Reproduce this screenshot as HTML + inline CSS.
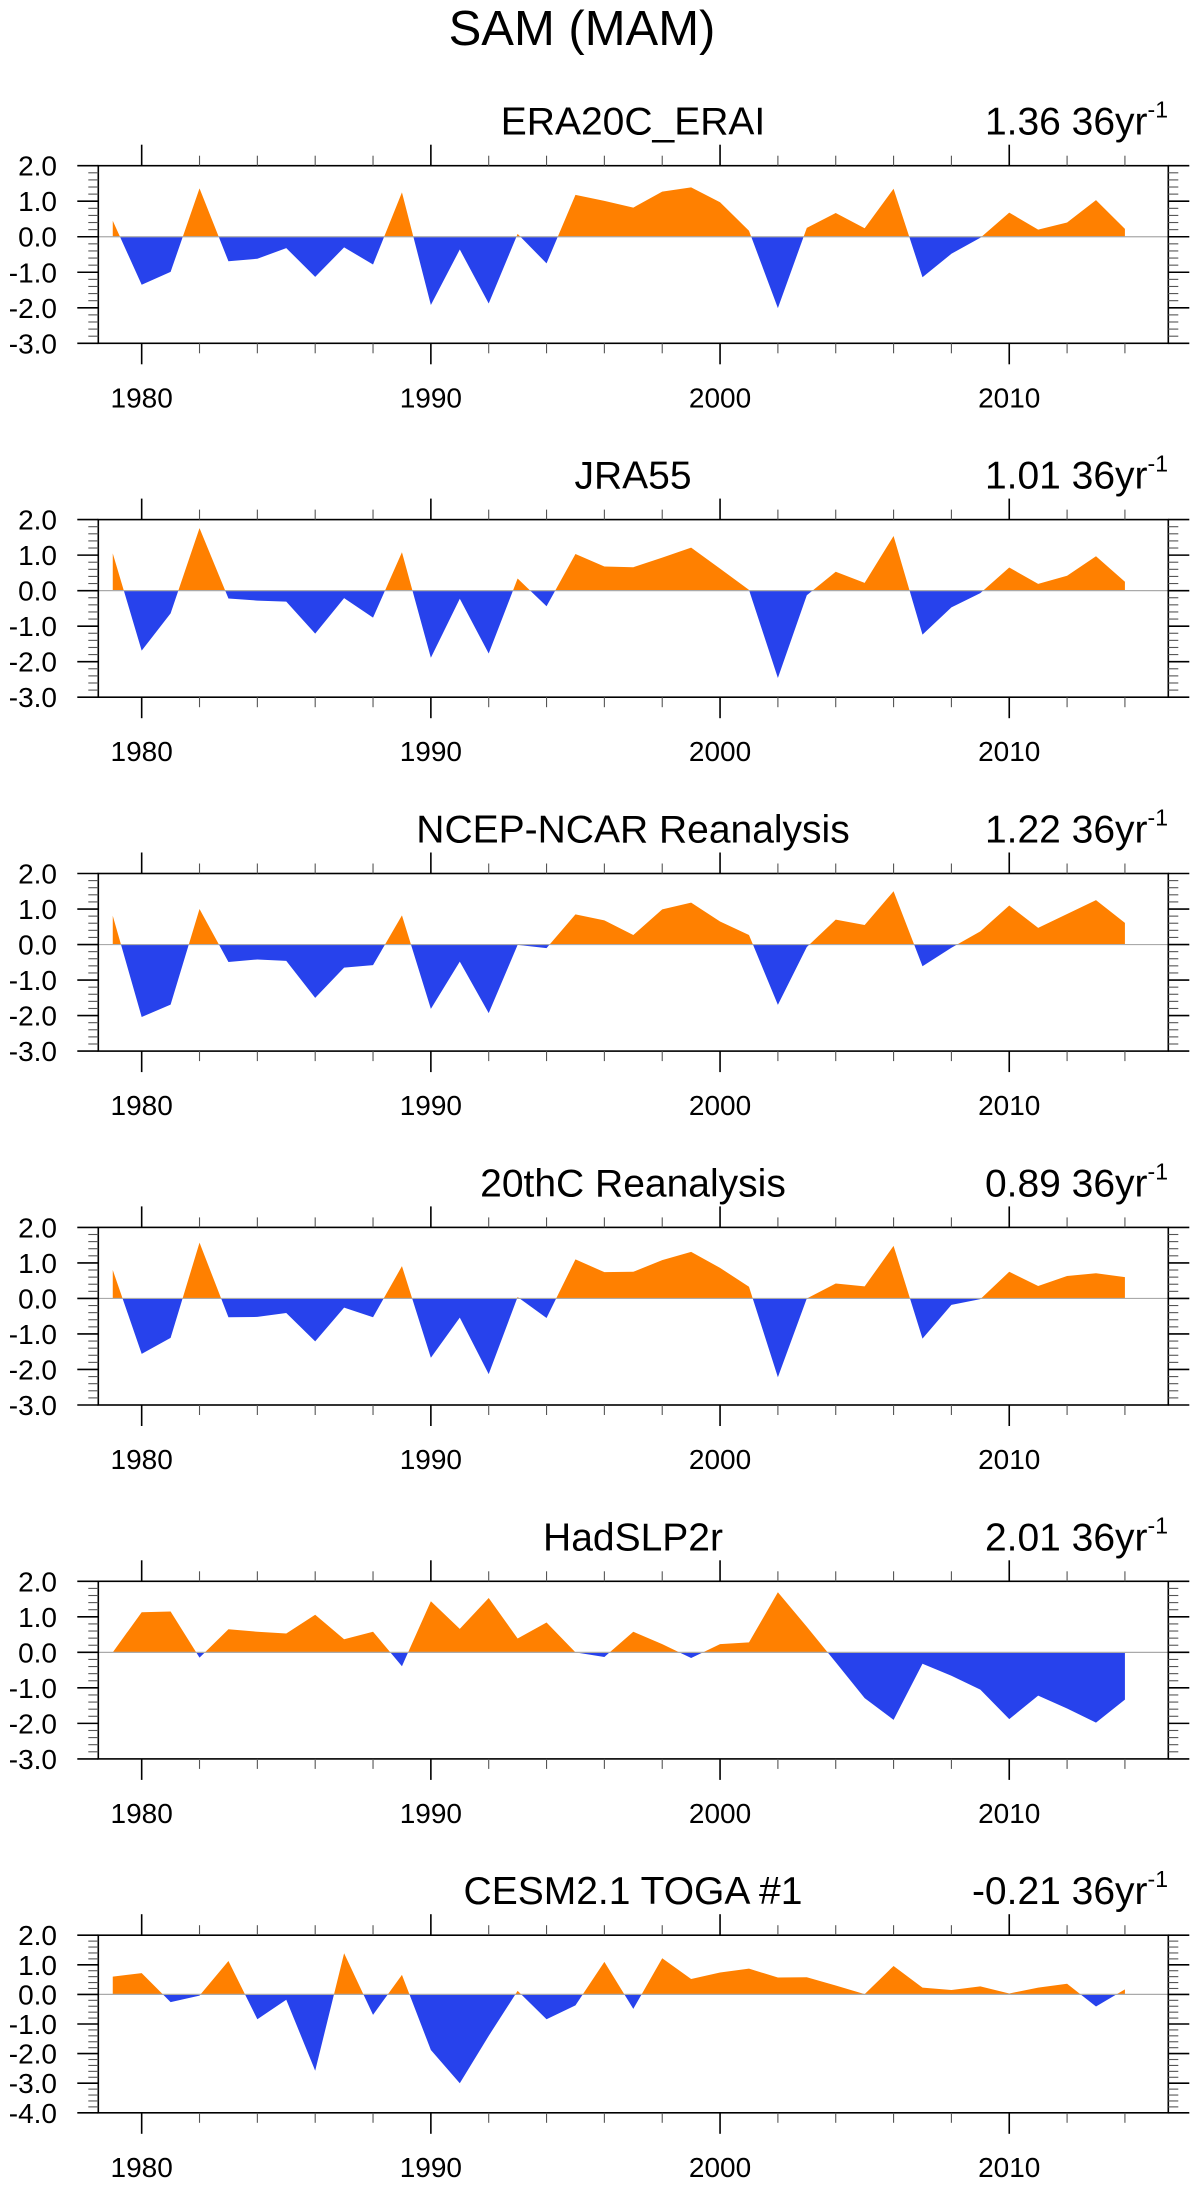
<!DOCTYPE html>
<html><head><meta charset="utf-8"><style>
html,body{margin:0;padding:0;background:#fff;}
svg{display:block;font-family:"Liberation Sans",Arial,sans-serif;}
</style></head><body>
<svg id="chart" width="1198" height="2186" viewBox="0 0 1198 2186" xmlns="http://www.w3.org/2000/svg">
<text x="582" y="45" font-size="49" text-anchor="middle">SAM (MAM)</text>
</svg>
<script>
const years = [1979,1980,1981,1982,1983,1984,1985,1986,1987,1988,1989,1990,1991,1992,1993,1994,1995,1996,1997,1998,1999,2000,2001,2002,2003,2004,2005,2006,2007,2008,2009,2010,2011,2012,2013,2014];
const panelTitles = ["ERA20C_ERAI","JRA55","NCEP-NCAR Reanalysis","20thC Reanalysis","HadSLP2r","CESM2.1 TOGA #1"];
const trendLabels = ["1.36 36yr","1.01 36yr","1.22 36yr","0.89 36yr","2.01 36yr","-0.21 36yr"];
const xTickLabels = [1980,1990,2000,2010];
const era20cErai = [0.45,-1.35,-0.99,1.36,-0.69,-0.62,-0.32,-1.13,-0.30,-0.78,1.25,-1.92,-0.36,-1.88,0.08,-0.75,1.18,1.01,0.82,1.27,1.39,0.97,0.17,-2.01,0.25,0.67,0.24,1.35,-1.14,-0.48,-0.03,0.68,0.20,0.40,1.03,0.22];
const jra55 = [1.05,-1.69,-0.64,1.76,-0.22,-0.28,-0.31,-1.21,-0.21,-0.76,1.08,-1.89,-0.23,-1.77,0.34,-0.44,1.03,0.68,0.66,0.93,1.21,0.62,0.02,-2.46,-0.13,0.53,0.22,1.54,-1.24,-0.47,-0.07,0.65,0.19,0.42,0.97,0.25];
const ncepNcar = [0.81,-2.04,-1.69,1.00,-0.49,-0.42,-0.46,-1.50,-0.65,-0.58,0.82,-1.81,-0.48,-1.93,-0.01,-0.10,0.85,0.68,0.27,0.99,1.18,0.65,0.27,-1.70,-0.07,0.70,0.55,1.50,-0.61,-0.09,0.37,1.10,0.47,0.86,1.25,0.61];
const c20Reanalysis = [0.80,-1.56,-1.11,1.57,-0.53,-0.52,-0.41,-1.21,-0.26,-0.53,0.91,-1.67,-0.54,-2.13,0.04,-0.55,1.10,0.74,0.75,1.08,1.31,0.86,0.33,-2.22,0.00,0.42,0.34,1.48,-1.13,-0.18,-0.02,0.75,0.35,0.63,0.71,0.60];
const hadSLP2r = [0.00,1.13,1.15,-0.15,0.65,0.58,0.53,1.06,0.37,0.58,-0.39,1.44,0.66,1.53,0.39,0.84,0.00,-0.13,0.58,0.23,-0.16,0.23,0.28,1.69,0.72,-0.28,-1.29,-1.90,-0.32,-0.66,-1.05,-1.88,-1.22,-1.58,-1.98,-1.33];
const cesmToga = [0.60,0.72,-0.26,-0.04,1.13,-0.84,-0.18,-2.58,1.39,-0.69,0.66,-1.88,-3.00,-1.40,0.12,-0.84,-0.37,1.10,-0.49,1.22,0.52,0.74,0.87,0.57,0.58,0.30,0.01,0.96,0.23,0.15,0.27,0.03,0.23,0.36,-0.41,0.17];
const panelSeries = [era20cErai,jra55,ncepNcar,c20Reanalysis,hadSLP2r,cesmToga];
const yMins = [-3,-3,-3,-3,-3,-4];
const yMax = 2;

const NS = "http://www.w3.org/2000/svg";
const svg = document.getElementById("chart");
const X0 = 98.3, X1 = 1168.3, XMIN = 1978.5, XMAX = 2015.5;
function xs(yr){ return X0 + (yr - XMIN) / (XMAX - XMIN) * (X1 - X0); }
function mk(tag, attrs, parent){
  const e = document.createElementNS(NS, tag);
  for (const k in attrs) e.setAttribute(k, attrs[k]);
  (parent || svg).appendChild(e);
  return e;
}
const PH = 177.6;
panelSeries.forEach(function(vals, p){
  const top = 165.7 + p * 353.9, bot = top + PH;
  const ymin = yMins[p];
  function ys(v){ return top + (yMax - v) / (yMax - ymin) * PH; }
  const g = mk("g", {});
  
  
  const zy = ys(0);
  const defs = mk("defs", {}, g);
  const cpA = mk("clipPath", {id: "ca" + p}, defs);
  mk("rect", {x: X0, y: top, width: X1 - X0, height: zy - top}, cpA);
  const cpB = mk("clipPath", {id: "cb" + p}, defs);
  mk("rect", {x: X0, y: zy, width: X1 - X0, height: bot - zy}, cpB);
  let d = "M" + xs(years[0]) + "," + zy;
  vals.forEach(function(v, i){ d += " L" + xs(years[i]).toFixed(2) + "," + ys(v).toFixed(2); });
  d += " L" + xs(years[years.length - 1]) + "," + zy + " Z";
  const pos = mk("path", {d: d, fill: "#ff8000", "clip-path": "url(#ca" + p + ")"}, g);
  
  
  const neg = mk("path", {d: d, fill: "#2742ec", "clip-path": "url(#cb" + p + ")"}, g);
  
  
  const zl = mk("line", {x1: X0, x2: X1, y1: zy, y2: zy, stroke: "#aaa", "stroke-width": 1.2}, g);
  
  
  const fr = mk("rect", {x: X0, y: top, width: X1 - X0, height: PH, fill: "none", stroke: "#000", "stroke-width": 1.6}, g);
  
  
  for (let k = 0; k <= (yMax - ymin) * 5; k++){
    const v = yMax - k * 0.2;
    const y = ys(v);
    const major = (k % 5 === 0);
    const len = major ? 21 : 10;
    mk("line", {x1: X0 - len, x2: X0, y1: y, y2: y, stroke: major ? "#000" : "#555", "stroke-width": major ? 1.6 : 1.1}, g);
    mk("line", {x1: X1, x2: X1 + len, y1: y, y2: y, stroke: major ? "#000" : "#555", "stroke-width": major ? 1.6 : 1.1}, g);
    if (major){
      const t = mk("text", {x: 57, y: y + 10, "font-size": 28, "text-anchor": "end"}, g);
      
      
      t.textContent = v.toFixed(1);
    }
  }
  for (let yr = 1980; yr <= 2014; yr += 2){
    const x = xs(yr);
    const major = (yr % 10 === 0);
    const len = major ? 21 : 10;
    mk("line", {x1: x, x2: x, y1: top - len, y2: top, stroke: major ? "#000" : "#555", "stroke-width": major ? 1.6 : 1.1}, g);
    mk("line", {x1: x, x2: x, y1: bot, y2: bot + len, stroke: major ? "#000" : "#555", "stroke-width": major ? 1.6 : 1.1}, g);
  }
  xTickLabels.forEach(function(yr){
    const t = mk("text", {x: xs(yr), y: bot + 64, "font-size": 28, "text-anchor": "middle"}, g);
    
    
    t.textContent = yr;
  });
  const tt = mk("text", {x: 633, y: top - 31, "font-size": 39, "text-anchor": "middle"}, g);
  
  
  tt.textContent = panelTitles[p];
  const tr = mk("text", {x: 1168, y: top - 31, "font-size": 39, "text-anchor": "end"}, g);
  
  
  tr.appendChild(document.createTextNode(trendLabels[p]));
  const sup = mk("tspan", {"font-size": 23, dy: -17}, tr);
  sup.textContent = "-1";
});
</script>
</body></html>
